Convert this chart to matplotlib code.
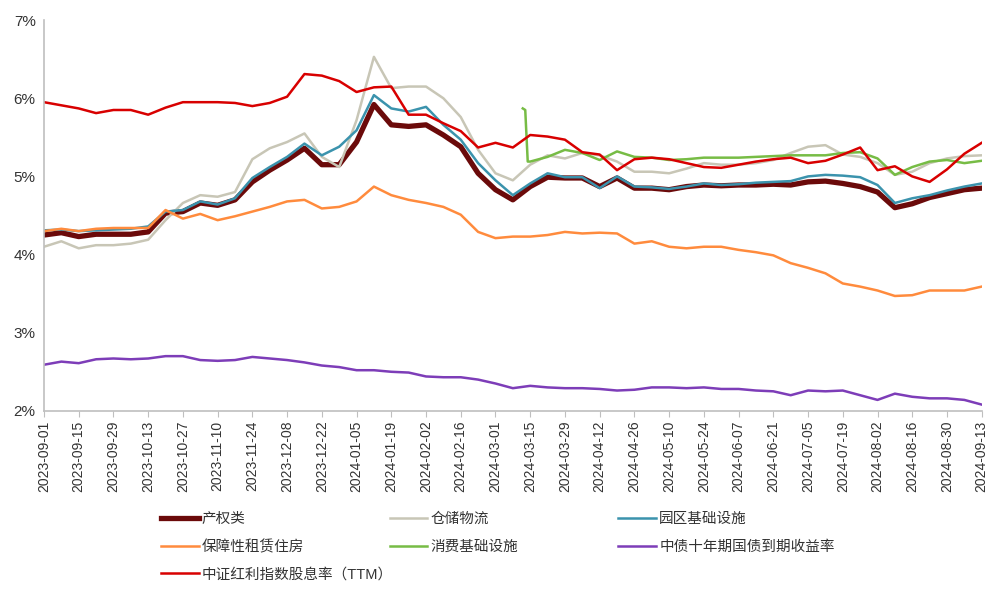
import matplotlib
matplotlib.use("Agg")
import matplotlib.pyplot as plt
import matplotlib.dates as mdates
import pandas as pd
import numpy as np

plt.rcParams['font.family'] = ['Liberation Sans', 'Noto Sans CJK SC', 'DejaVu Sans']

# 周度取值（每周五），单位：%
dates = pd.date_range('2023-09-01', '2024-09-13', freq='7D')

chanquan = [4.25, 4.28, 4.23, 4.26, 4.26, 4.26, 4.29, 4.53, 4.55, 4.66,
            4.63, 4.70, 4.93, 5.08, 5.21, 5.36, 5.15, 5.15, 5.44, 5.92,
            5.66, 5.64, 5.66, 5.53, 5.38, 5.04, 4.83, 4.70, 4.87, 4.99,
            4.98, 4.98, 4.87, 4.98, 4.85, 4.85, 4.83, 4.87, 4.89, 4.88,
            4.89, 4.89, 4.90, 4.89, 4.93, 4.94, 4.91, 4.87, 4.80, 4.60,
            4.65, 4.73, 4.78, 4.83, 4.85]

cangchu = [4.10, 4.17, 4.08, 4.12, 4.12, 4.14, 4.19, 4.44, 4.66, 4.76,
           4.74, 4.80, 5.22, 5.36, 5.44, 5.55, 5.25, 5.12, 5.72, 6.53,
           6.13, 6.15, 6.15, 6.00, 5.76, 5.34, 5.04, 4.95, 5.15, 5.27,
           5.23, 5.30, 5.27, 5.19, 5.06, 5.06, 5.04, 5.10, 5.17, 5.15,
           5.15, 5.17, 5.21, 5.30, 5.38, 5.40, 5.28, 5.25, 5.17, 5.02,
           5.06, 5.17, 5.23, 5.26, 5.27]

yuanqu = [4.31, 4.32, 4.30, 4.31, 4.32, 4.33, 4.36, 4.55, 4.57, 4.68,
          4.64, 4.72, 4.98, 5.12, 5.25, 5.42, 5.27, 5.38, 5.59, 6.04,
          5.87, 5.83, 5.89, 5.66, 5.47, 5.17, 4.95, 4.76, 4.91, 5.04,
          4.99, 4.99, 4.85, 5.00, 4.87, 4.86, 4.84, 4.87, 4.91, 4.89,
          4.90, 4.92, 4.93, 4.94, 5.00, 5.02, 5.01, 4.99, 4.89, 4.66,
          4.72, 4.76, 4.82, 4.87, 4.91]

baozhang = [4.30, 4.33, 4.30, 4.33, 4.34, 4.34, 4.34, 4.57, 4.46, 4.52,
            4.44, 4.49, 4.55, 4.61, 4.68, 4.70, 4.59, 4.61, 4.68, 4.87,
            4.76, 4.70, 4.66, 4.61, 4.51, 4.29, 4.21, 4.23, 4.23, 4.25,
            4.29, 4.27, 4.28, 4.27, 4.14, 4.17, 4.10, 4.08, 4.10, 4.10,
            4.06, 4.03, 3.99, 3.89, 3.83, 3.76, 3.63, 3.59, 3.54, 3.47,
            3.48, 3.54, 3.54, 3.54, 3.59]

# 消费基础设施自2024-03-12起有数据
xiaofei_dates = list(pd.to_datetime(['2024-03-12', '2024-03-13', '2024-03-14'])) + list(dates[28:])
xiaofei = [5.87, 5.85, 5.19,
           5.19, 5.25, 5.34, 5.30, 5.21, 5.32, 5.25, 5.24, 5.21, 5.22,
           5.24, 5.24, 5.24, 5.25, 5.26, 5.27, 5.27, 5.27, 5.30, 5.31,
           5.23, 5.02, 5.12, 5.19, 5.21, 5.17, 5.20]

guozhai = [2.59, 2.63, 2.61, 2.66, 2.67, 2.66, 2.67, 2.70, 2.70, 2.65,
           2.64, 2.65, 2.69, 2.67, 2.65, 2.62, 2.58, 2.56, 2.52, 2.52,
           2.50, 2.49, 2.44, 2.43, 2.43, 2.40, 2.35, 2.29, 2.32, 2.30,
           2.29, 2.29, 2.28, 2.26, 2.27, 2.30, 2.30, 2.29, 2.30, 2.28,
           2.28, 2.26, 2.25, 2.20, 2.26, 2.25, 2.26, 2.20, 2.14, 2.22,
           2.18, 2.16, 2.16, 2.14, 2.08]

hongli = [5.95, 5.91, 5.87, 5.81, 5.85, 5.85, 5.79, 5.88, 5.95, 5.95,
          5.95, 5.94, 5.90, 5.94, 6.02, 6.31, 6.29, 6.22, 6.08, 6.14,
          6.15, 5.79, 5.79, 5.68, 5.58, 5.37, 5.43, 5.37, 5.53, 5.51,
          5.47, 5.31, 5.28, 5.08, 5.22, 5.24, 5.22, 5.17, 5.12, 5.11,
          5.15, 5.19, 5.22, 5.24, 5.17, 5.20, 5.28, 5.37, 5.08, 5.13,
          5.00, 4.93, 5.09, 5.29, 5.43]

fig = plt.figure(figsize=(10.04, 5.92), dpi=100)
ax = fig.add_axes([0.0438, 0.306, 0.934, 0.66])

l1, = ax.plot(dates, chanquan, color='#6B0A0A', lw=3.8, label='产权类', solid_joinstyle='round')
l2, = ax.plot(dates, cangchu, color='#C8C6B6', lw=1.8, label='仓储物流')
l3, = ax.plot(dates, yuanqu, color='#3B93AD', lw=1.8, label='园区基础设施')
l4, = ax.plot(dates, baozhang, color='#FF8B3D', lw=1.8, label='保障性租赁住房')
l5, = ax.plot(xiaofei_dates, xiaofei, color='#77BC45', lw=1.8, label='消费基础设施')
l6, = ax.plot(dates, guozhai, color='#7D3DB8', lw=1.8, label='中债十年期国债到期收益率')
l7, = ax.plot(dates, hongli, color='#D80000', lw=1.8, label='中证红利指数股息率（TTM）')

ax.set_xlim(dates[0], dates[-1])
ax.set_ylim(2, 7)
ax.set_yticks([2, 3, 4, 5, 6, 7])
ax.set_yticklabels([f'{v}%' for v in range(2, 8)], fontsize=11, color='#333333')

ax.set_xticks(dates[::2])
ax.xaxis.set_major_formatter(mdates.DateFormatter('%Y-%m-%d'))
plt.setp(ax.get_xticklabels(), rotation=90, fontsize=10, color='#333333')

for s in ['top', 'right']:
    ax.spines[s].set_visible(False)
for s in ['left', 'bottom']:
    ax.spines[s].set_color('#BFBFBF')
    ax.spines[s].set_linewidth(1.2)
ax.tick_params(axis='y', length=0, pad=6)
ax.tick_params(axis='x', length=4, color='#BFBFBF', pad=3)

# 图例：三列，手动定位
cols = [([l1, l4, l7], 0.160), ([l2, l5], 0.388), ([l3, l6], 0.616)]
for handles, x0 in cols:
    leg = fig.legend(handles=handles, loc='upper left', bbox_to_anchor=(x0, 0.135),
                     frameon=False, fontsize=10.5, handlelength=2.6, handletextpad=0.2,
                     labelspacing=0.93, borderpad=0, borderaxespad=0)
    for t in leg.get_texts():
        t.set_color('#333333')

fig.savefig('out.png', dpi=100)
